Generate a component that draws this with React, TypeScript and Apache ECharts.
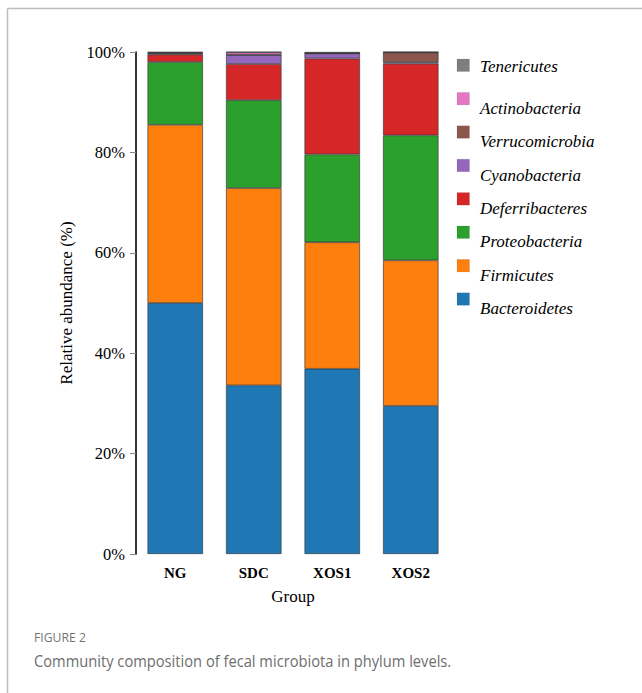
import React, { useEffect, useRef } from "react";
import * as echarts from "echarts";

// Sample groups along the x axis
const groups = ["NG", "SDC", "XOS1", "XOS2"];

// Phylum relative abundance (%) per group, stacked bottom to top
const bacteroidetes = [50.0, 33.6, 36.9, 29.5];
const firmicutes = [35.5, 39.3, 25.2, 29.0];
const proteobacteria = [12.5, 17.5, 17.5, 24.9];
const deferribacteres = [1.5, 7.2, 19.1, 14.3];
const cyanobacteria = [0.2, 1.8, 1.0, 0.3];
const verrucomicrobia = [0.1, 0.05, 0.05, 1.9];
const actinobacteria = [0.1, 0.5, 0.05, 0.05];
const tenericutes = [0.1, 0.05, 0.2, 0.05];

const phyla = [
  "Bacteroidetes",
  "Firmicutes",
  "Proteobacteria",
  "Deferribacteres",
  "Cyanobacteria",
  "Verrucomicrobia",
  "Actinobacteria",
  "Tenericutes",
];
const phylumValues = [
  bacteroidetes,
  firmicutes,
  proteobacteria,
  deferribacteres,
  cyanobacteria,
  verrucomicrobia,
  actinobacteria,
  tenericutes,
];
const phylumColors = [
  "#1f77b4",
  "#ff7f0e",
  "#2ca02c",
  "#d62728",
  "#9467bd",
  "#8c564b",
  "#e377c2",
  "#7f7f7f",
];

const yTicks = { min: 0, max: 100, interval: 20 };
const serif = "'Liberation Serif', 'Times New Roman', serif";
const sans = "'Open Sans', 'Noto Sans', sans-serif";

export default function App() {
  const ref = useRef<HTMLDivElement>(null);

  useEffect(() => {
    document.body.style.margin = "0";
    if (!ref.current) return;
    const chart = echarts.init(ref.current, null, { renderer: "svg" });

    // Legend is listed top-down in reverse stacking order
    const legendOrder = phyla.map((_, i) => i).reverse();
    const legendTop = 59;
    const legendStep = 33.4;
    const legendGraphics: any[] = [];
    legendOrder.forEach((idx, row) => {
      const top = legendTop + row * legendStep;
      legendGraphics.push({
        type: "rect",
        shape: { x: 457, y: top, width: 12.5, height: 12.5 },
        style: { fill: phylumColors[idx], stroke: "rgba(0,0,0,0.15)", lineWidth: 0.5 },
      });
      legendGraphics.push({
        type: "text",
        x: 480,
        y: row === 0 ? top + 7.5 : top + 15.8,
        style: {
          text: phyla[idx],
          font: `italic 17px ${serif}`,
          fill: "#000",
          verticalAlign: "middle",
          align: "left",
        },
      });
    });

    const option: any = {
      animation: false,
      backgroundColor: "#fff",
      grid: { left: 136, top: 52, width: 314, height: 502 },
      xAxis: {
        type: "category",
        data: groups,
        name: "Group",
        nameLocation: "middle",
        nameGap: 34,
        nameTextStyle: { fontFamily: serif, fontSize: 17, color: "#000" },
        axisLine: { show: false },
        axisTick: { show: false },
        axisLabel: {
          fontFamily: serif,
          fontSize: 15,
          fontWeight: "bold",
          color: "#000",
          margin: 11,
        },
      },
      yAxis: {
        type: "value",
        min: yTicks.min,
        max: yTicks.max,
        interval: yTicks.interval,
        name: "Relative abundance (%)",
        nameLocation: "middle",
        nameGap: 61,
        nameTextStyle: { fontFamily: serif, fontSize: 17, color: "#000" },
        axisLine: { show: true, lineStyle: { color: "#000", width: 1.6 } },
        axisTick: { show: true, length: 6, lineStyle: { color: "#888", width: 1 } },
        splitLine: { show: false },
        axisLabel: {
          formatter: "{value}%",
          fontFamily: serif,
          fontSize: 16.5,
          color: "#000",
          margin: 11,
        },
      },
      series: phyla.map((name, i) => ({
        name,
        type: "bar",
        stack: "total",
        barWidth: 55.5,
        data: phylumValues[i],
        itemStyle: {
          color: phylumColors[i],
          borderColor: "#3c3c3c",
          borderWidth: 0.7,
        },
      })),
      graphic: [
        // figure frame
        {
          type: "line",
          shape: { x1: 7.5, y1: 8.5, x2: 642, y2: 8.5 },
          style: { stroke: "#bdbdbd", lineWidth: 1.5 },
        },
        {
          type: "line",
          shape: { x1: 7.5, y1: 8.5, x2: 7.5, y2: 693 },
          style: { stroke: "#bdbdbd", lineWidth: 1.5 },
        },
        ...legendGraphics,
        {
          type: "text",
          x: 34,
          y: 637,
          scaleX: 0.94,
          style: {
            text: "FIGURE 2",
            font: `13px ${sans}`,
            fill: "#747474",
            verticalAlign: "middle",
          },
        },
        {
          type: "text",
          x: 34,
          y: 661,
          scaleX: 0.89,
          style: {
            text: "Community composition of fecal microbiota in phylum levels.",
            font: `16.5px ${sans}`,
            fill: "#6e6e6e",
            verticalAlign: "middle",
          },
        },
      ],
    };

    chart.setOption(option);
    return () => chart.dispose();
  }, []);

  return <div ref={ref} style={{ width: 642, height: 693 }} />;
}
